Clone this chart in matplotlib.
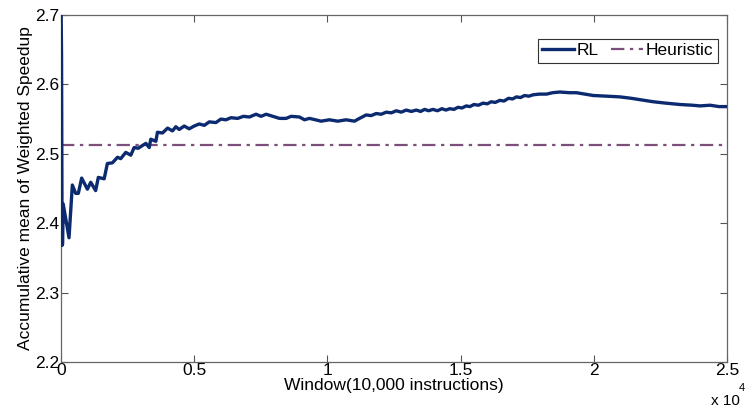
import numpy as np
import matplotlib
matplotlib.use("Agg")
import matplotlib.pyplot as plt

plt.rcParams['font.family'] = ['Liberation Sans', 'DejaVu Sans']

# RL accumulative mean
rl_x = [0, 20, 40, 60, 80, 300, 425, 550, 650, 775, 990, 1115, 1300, 1400,
        1505, 1620, 1740, 1930, 2120, 2240, 2430, 2620, 2745, 2900, 3060,
        3185, 3310, 3370, 3560, 3620, 3810, 4000, 4185, 4310, 4435, 4625,
        4810, 5000, 5190, 5380, 5565, 5815, 6000, 6190, 6380, 6630, 6850,
        7070, 7320, 7510, 7700, 7950, 8200, 8450, 8640, 8950, 9140, 9325,
        9550, 9765, 10075, 10390, 10700, 11015, 11205, 11455, 11640, 11830,
        12020, 12210, 12400, 12585, 12770, 12960, 13150, 13335, 13500,
        13650, 13800, 13960, 14130, 14300, 14450, 14590, 14750, 14900,
        15050, 15215, 15350, 15500, 15670, 15840, 16000, 16150, 16300,
        16470, 16630, 16800, 16950, 17095, 17250, 17400, 17560, 17720,
        17950, 18225, 18450, 18725, 19100, 19350, 19980, 20500, 20980,
        21400, 21730, 22230, 22700, 23240, 23700, 23990, 24365, 24700, 25000]
rl_y = [2.720, 2.640, 2.368, 2.370, 2.428, 2.379, 2.455, 2.443, 2.443,
        2.465, 2.449, 2.459, 2.447, 2.466, 2.465, 2.464, 2.486, 2.487,
        2.495, 2.493, 2.502, 2.498, 2.509, 2.508, 2.512, 2.515, 2.509,
        2.521, 2.518, 2.531, 2.530, 2.537, 2.533, 2.539, 2.535, 2.540,
        2.536, 2.540, 2.543, 2.541, 2.546, 2.545, 2.550, 2.549, 2.552,
        2.551, 2.554, 2.553, 2.557, 2.554, 2.557, 2.554, 2.551, 2.551,
        2.554, 2.553, 2.549, 2.551, 2.549, 2.547, 2.549, 2.547, 2.549,
        2.547, 2.551, 2.556, 2.555, 2.558, 2.557, 2.560, 2.559, 2.562,
        2.560, 2.563, 2.561, 2.563, 2.561, 2.564, 2.562, 2.564, 2.562,
        2.565, 2.563, 2.565, 2.564, 2.567, 2.566, 2.569, 2.568, 2.571,
        2.570, 2.573, 2.572, 2.575, 2.574, 2.577, 2.576, 2.580, 2.579,
        2.582, 2.581, 2.584, 2.583, 2.585, 2.586, 2.586, 2.588, 2.589,
        2.588, 2.588, 2.584, 2.583, 2.582, 2.580, 2.578, 2.575, 2.573,
        2.571, 2.570, 2.569, 2.570, 2.568, 2.568]

heuristic = 2.513

fig = plt.figure(figsize=(7.46, 4.13), dpi=100)
ax = fig.add_axes([0.0818, 0.1235, 0.8927, 0.8402])

ax.plot(rl_x, rl_y, color='#0b2a6f', lw=2.4, label='RL', zorder=3)
ax.axhline(heuristic, color='#7b4f7a', lw=1.6, ls=(0, (6, 2.5, 1.5, 2.5)),
           label='Heuristic', zorder=2)

ax.set_xlim(0, 25000)
ax.set_ylim(2.2, 2.7)
ax.set_xticks([0, 5000, 10000, 15000, 20000, 25000])
ax.set_xticklabels(['0', '0.5', '1', '1.5', '2', '2.5'])
ax.set_yticks([2.2, 2.3, 2.4, 2.5, 2.6, 2.7])
ax.set_yticklabels(['2.2', '2.3', '2.4', '2.5', '2.6', '2.7'])

ax.tick_params(direction='in', length=5, width=0.8, top=True, right=True,
               labelsize=12.5, colors='#555555', labelcolor='black', pad=1)
for s in ax.spines.values():
    s.set_color('#666666')
    s.set_linewidth(0.9)

ax.set_xlabel('Window(10,000 instructions)', fontsize=12.5, labelpad=0)
ax.set_ylabel('Accumulative mean of Weighted Speedup', fontsize=12.5, labelpad=2)

# MATLAB-style exponent label below the right end of the x axis
fig.text(0.953, 0.012, 'x 10', fontsize=11, ha='left', va='bottom')
fig.text(0.990, 0.049, '4', fontsize=8, ha='left', va='bottom')

leg = ax.legend(loc='upper right', bbox_to_anchor=(0.9865, 0.931), ncol=2,
                fontsize=12.5, frameon=True, fancybox=False, framealpha=1,
                edgecolor='#333333', handlelength=1.8, handletextpad=0.2,
                columnspacing=0.7, borderpad=0.25, borderaxespad=0)
leg.get_frame().set_linewidth(0.8)

fig.savefig('out.png', dpi=100)
